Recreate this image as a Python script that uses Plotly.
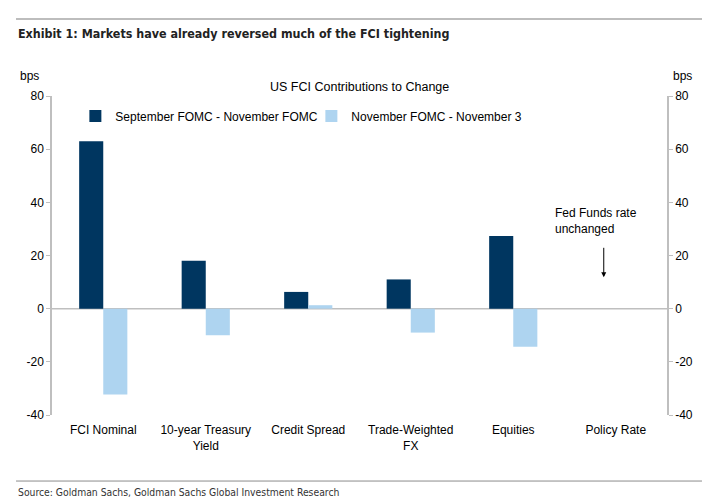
import plotly.graph_objects as go

categories = ["FCI Nominal", "10-year Treasury<br>Yield", "Credit Spread",
              "Trade-Weighted<br>FX", "Equities", "Policy Rate"]
sept_nov = [63.0, 18.0, 6.3, 11.0, 27.3, 0.0]
nov_nov3 = [-32.3, -10.0, 1.3, -9.0, -14.3, 0.0]
series_names = ["September FOMC - November FOMC", "November FOMC - November 3"]
y_ticks = [-40, -20, 0, 20, 40, 60, 80]
y_tick_labels = ["-40", "-20", "0", "20", "40", "60", "80"]

DARK = "#003660"
LIGHT = "#AED4F0"
GRID = "#BFBFBF"
FONT = "Liberation Sans, Arial, sans-serif"
NARROW = "Liberation Sans Narrow, DejaVu Sans Condensed, sans-serif"

fig = go.Figure()
fig.add_trace(go.Bar(x=categories, y=sept_nov, name=series_names[0],
                     marker=dict(color=DARK, line=dict(width=0))))
fig.add_trace(go.Bar(x=categories, y=nov_nov3, name=series_names[1],
                     marker=dict(color=LIGHT, line=dict(width=0))))
# invisible helper on secondary axis so the right axis renders
fig.add_trace(go.Scatter(x=categories, y=sept_nov, yaxis="y2", mode="markers",
                         marker=dict(opacity=0), showlegend=False, hoverinfo="skip"))

axis_common = dict(range=[-40, 80], tickvals=y_ticks, ticktext=y_tick_labels,
                   showgrid=False,
                   showline=True, linecolor=GRID, linewidth=1.5,
                   ticks="outside", ticklen=4, tickcolor=GRID,
                   tickfont=dict(family=FONT, size=12, color="#000"),
                   zeroline=False)

shapes = [
    # zero line
    dict(type="line", xref="paper", yref="y", x0=0, x1=1, y0=0, y1=0,
         line=dict(color=GRID, width=1.5), layer="below"),
    # bottom rule
    dict(type="line", xref="x domain", yref="y domain",
         x0=-0.0585, x1=1.0569, y0=-0.207, y1=-0.207,
         line=dict(color="#8C8C8C", width=1), layer="above"),
]

# page body has an 8px margin, so the figure is 8px smaller on each axis
fig.update_layout(
    width=704, height=495,
    margin=dict(l=44, r=45, t=88, b=88),
    paper_bgcolor="white", plot_bgcolor="white",
    barmode="group", bargap=0.53, bargroupgap=0,
    font=dict(family=FONT, size=12, color="#000"),
    xaxis=dict(showline=False, ticks="", showgrid=False,
               tickfont=dict(family=FONT, size=12, color="#000"), ticklabelstandoff=6),
    yaxis=dict(**axis_common),
    yaxis2=dict(**axis_common, overlaying="y", side="right", matches="y"),
    legend=dict(orientation="h", x=0.038, y=0.937, xanchor="left", yanchor="middle",
                font=dict(family=FONT, size=12, color="#000"),
                bgcolor="rgba(0,0,0,0)", itemwidth=30, entrywidth=191,
                tracegroupgap=0),
    showlegend=True,
    shapes=shapes,
)

annotations = [
    # top rule drawn as a thin filled annotation box
    dict(text=" ", xref="paper", yref="paper", x=-0.0585, y=1.241,
         xanchor="left", yanchor="middle", showarrow=False,
         width=686, height=2, bgcolor="#BDBDBD", borderpad=0, borderwidth=0,
         font=dict(size=1)),
    dict(text="<b>Exhibit 1: Markets have already reversed much of the FCI tightening</b>",
         xref="paper", yref="paper", x=-0.058, y=1.197, xanchor="left", yanchor="middle",
         showarrow=False, font=dict(family=NARROW, size=12.4, color="#222")),
    dict(text="US FCI Contributions to Change", xref="paper", yref="paper",
         x=0.5, y=1.027, xanchor="center", yanchor="middle", showarrow=False,
         font=dict(family=FONT, size=12.5, color="#000")),
    dict(text="bps", xref="paper", yref="paper", x=-0.037, y=1.064,
         xanchor="center", yanchor="middle", showarrow=False,
         font=dict(family=FONT, size=12, color="#000")),
    dict(text="bps", xref="paper", yref="paper", x=1.026, y=1.064,
         xanchor="center", yanchor="middle", showarrow=False,
         font=dict(family=FONT, size=12, color="#000")),
    dict(text="Fed Funds rate<br>unchanged", xref="x", yref="y", x=categories[4],
         y=33, xanchor="left", yanchor="middle", xshift=40, showarrow=False,
         align="left", font=dict(family=FONT, size=12, color="#000")),
    dict(text="", xref="x", yref="y", x=categories[5], y=11.8, xshift=-12,
         ax=0, ay=-31, showarrow=True, arrowhead=2, arrowsize=1, arrowwidth=1,
         arrowcolor="#000"),
    dict(text="Source: Goldman Sachs, Goldman Sachs Global Investment Research",
         xref="paper", yref="paper", x=-0.058, y=-0.242, xanchor="left",
         yanchor="middle", showarrow=False,
         font=dict(family=NARROW, size=10.3, color="#333")),
]
fig.update_layout(annotations=annotations)

fig.write_html("out.html")
